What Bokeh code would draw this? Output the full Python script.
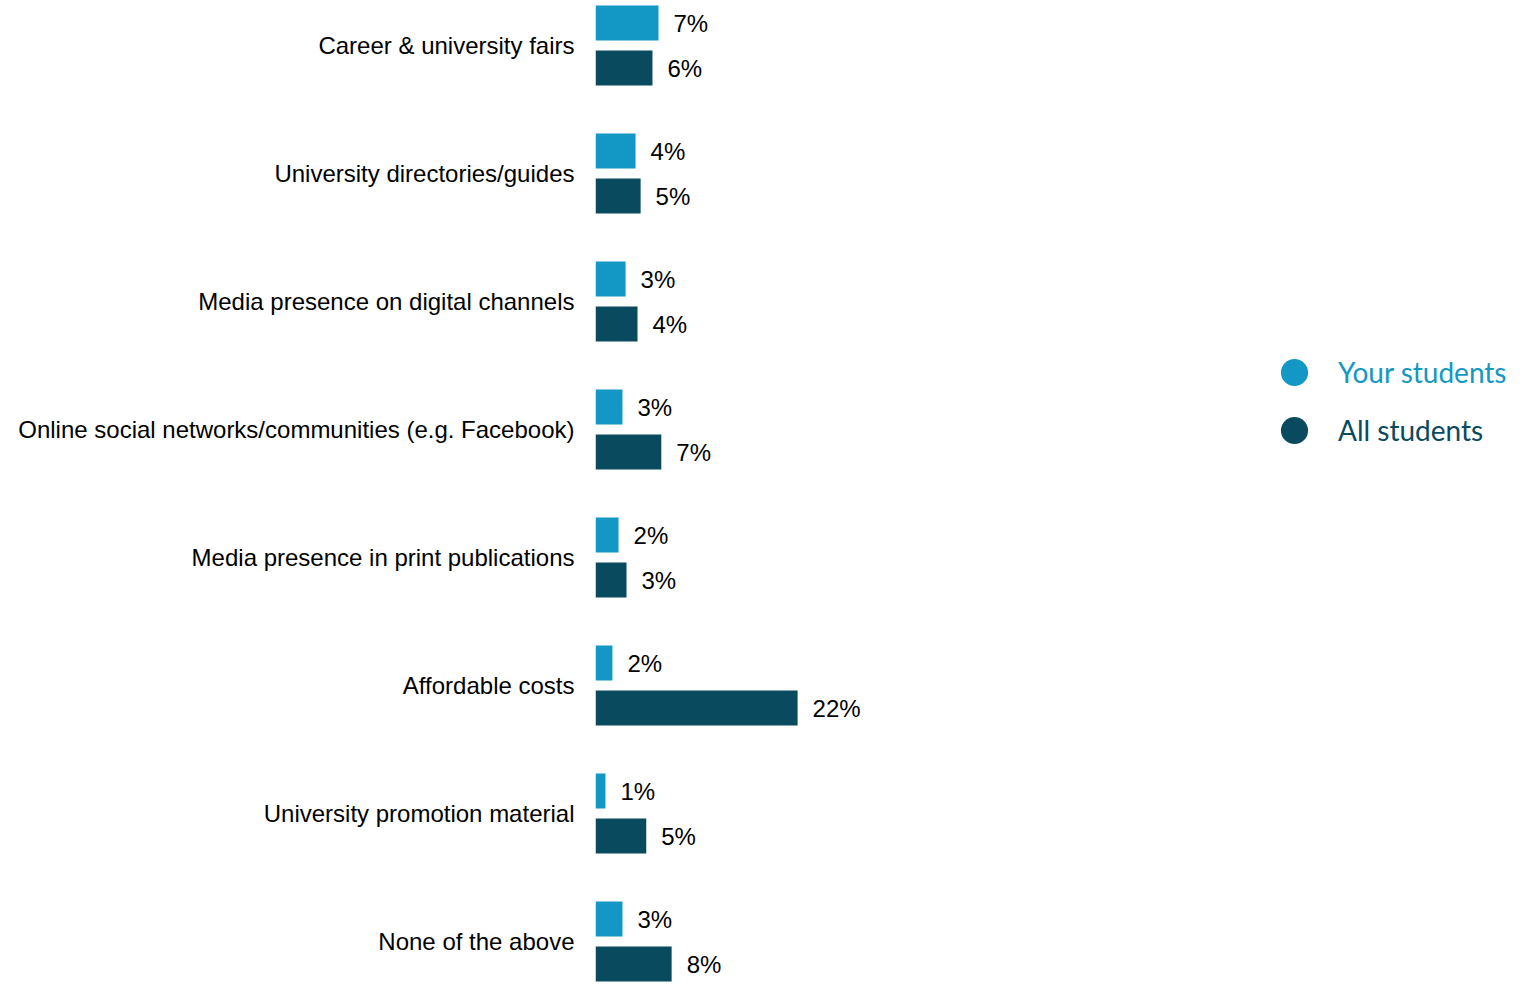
from bokeh.plotting import figure
from bokeh.models import (ColumnDataSource, Range1d, FixedTicker, Legend, LegendItem)
from bokeh.transform import dodge
from bokeh.core.properties import value
from bokeh.embed import file_html
from bokeh.resources import INLINE

categories = [
    "Career & university fairs",
    "University directories/guides",
    "Media presence on digital channels",
    "Online social networks/communities (e.g. Facebook)",
    "Media presence in print publications",
    "Affordable costs",
    "University promotion material",
    "None of the above",
]
your_students = [6.7, 4.26, 3.2, 2.87, 2.45, 1.8, 1.06, 2.87]
all_students = [6.06, 4.8, 4.47, 7.0, 3.3, 21.5, 5.4, 8.1]
series_names = ["Your students", "All students"]
colors = ["#1397C4", "#0A4A5F"]

pos = list(range(len(categories)))
src = ColumnDataSource(dict(
    pos=pos,
    your=your_students,
    all=all_students,
    your_lbl=[f"{round(v)}%" for v in your_students],
    all_lbl=[f"{round(v)}%" for v in all_students],
))

W, H = 1514, 983
LEFT = 595
PX_PER_UNIT = 9.4
ROW = 128.0
TOP0 = 45.0
p = figure(width=W, height=H, output_backend="svg", toolbar_location=None,
           x_range=Range1d(0, (W - LEFT) / PX_PER_UNIT),
           y_range=Range1d((H - TOP0) / ROW, -TOP0 / ROW),
           min_border_left=LEFT, min_border_right=0, min_border_top=0,
           min_border_bottom=0, background_fill_color="white",
           border_fill_color="white", outline_line_color=None)

bar_h = 35 / ROW
off = 22.5 / ROW
p.hbar(y=dodge("pos", -off), left=0, right="your", height=bar_h, source=src,
       fill_color=colors[0], line_color=None)
p.hbar(y=dodge("pos", off), left=0, right="all", height=bar_h, source=src,
       fill_color=colors[1], line_color=None)

label_kw = dict(text_font=value("Liberation Sans"), text_font_size="24px",
                text_color="#000000", text_baseline="middle", text_align="left",
                x_offset=15)
p.text(x="your", y=dodge("pos", -off), text="your_lbl", source=src, **label_kw)
p.text(x="all", y=dodge("pos", off), text="all_lbl", source=src, **label_kw)

# axes
p.xaxis.visible = False
p.xgrid.visible = False
p.ygrid.visible = False
ya = p.yaxis[0]
ya.ticker = FixedTicker(ticks=pos)
ya.major_label_overrides = {i: c for i, c in enumerate(categories)}
ya.axis_line_color = None
ya.major_tick_line_color = None
ya.minor_tick_line_color = None
ya.major_tick_out = 0
ya.major_tick_in = 0
ya.major_label_standoff = 21
ya.major_label_text_font = "Liberation Sans"
ya.major_label_text_font_size = "24px"
ya.major_label_text_color = "#000000"

# legend markers: zero-size points (invisible on plot), legend draws its own glyph
r1 = p.scatter(x="your", y="pos", source=src, marker="circle", size=0,
               fill_color=colors[0], line_color=None)
r2 = p.scatter(x="all", y="pos", source=src, marker="circle", size=0,
               fill_color=colors[1], line_color=None)
for r, name, col, loc in [(r1, series_names[0], colors[0], (665, 577)),
                          (r2, series_names[1], colors[1], (665, 519))]:
    lg = Legend(items=[LegendItem(label=name, renderers=[r])], location=loc,
                glyph_width=68, glyph_height=68, label_height=68,
                label_standoff=10, padding=0, margin=0, border_line_color=None,
                background_fill_alpha=0, label_text_font="Lato",
                label_text_font_size="28px", label_text_color=col,
                label_text_baseline="middle")
    p.add_layout(lg, "center")

open("out.html", "w").write(file_html(p, INLINE))
